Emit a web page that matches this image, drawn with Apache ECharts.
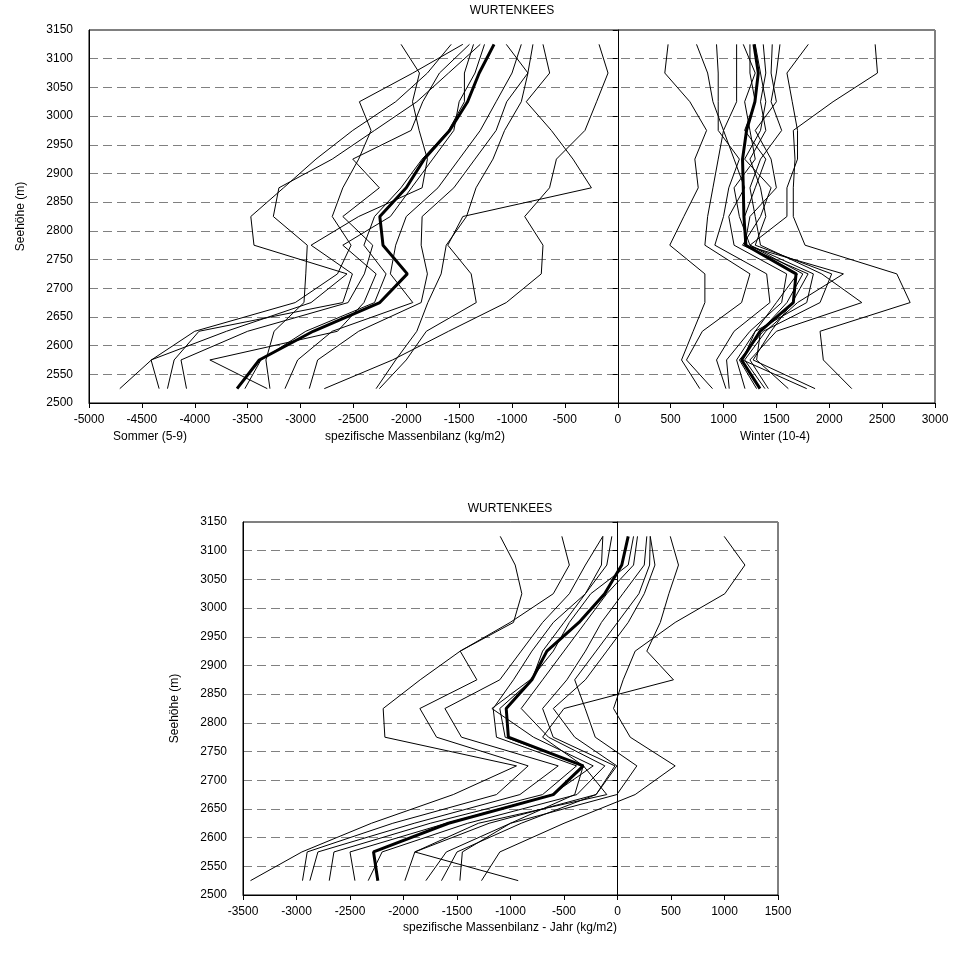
<!DOCTYPE html>
<html><head><meta charset="utf-8">
<script src="https://cdn.jsdelivr.net/npm/echarts@6/dist/echarts.min.js"></script>
<style>html,body{margin:0;padding:0;background:#fff}#c{width:959px;height:965px}</style>
</head><body><div id="c"></div>
<script>
// ---- data ----
const elevations = [2525, 2575, 2625, 2675, 2725, 2775, 2825, 2875, 2925, 2975, 3025, 3075, 3125];

const summerMean = [-3600, -3390, -2880, -2250, -1990, -2220, -2250, -2000, -1830, -1590, -1420, -1310, -1170];
const summerYears = [
  [-4709, -4410, -4000, -3050, -2650, -2522, -2700, -2600, -2450, -2333, -2443, -1938, -1465],
  [-4337, -4413, -3700, -2900, -2560, -3440, -3470, -3160, -2854, -2506, -2100, -1800, -1575],
  [-4258, -4195, -3960, -2600, -2509, -2900, -2450, -1850, -1800, -1878, -1941, -1875, -2049],
  [-4078, -4130, -3500, -2550, -2396, -2317, -2600, -2254, -2506, -1954, -1844, -1686, -1402],
  [-3314, -3857, -2650, -2400, -2285, -2600, -2150, -1950, -1750, -1550, -1500, -1350, -1260],
  [-3526, -3374, -2950, -2300, -2191, -2400, -2300, -2050, -1850, -1600, -1450, -1450, -1364],
  [-3289, -3327, -3250, -2967, -2950, -2936, -3257, -3204, -2700, -2300, -1900, -1600, -1300],
  [-3147, -3027, -2700, -1938, -2150, -2100, -2000, -1700, -1500, -1300, -1150, -1000, -912],
  [-2917, -2838, -2450, -1859, -1800, -1859, -1850, -1550, -1350, -1150, -1050, -850, -802],
  [-2775, -2130, -1600, -1054, -723, -707, -880, -645, -580, -310, -200, -92, -177],
  [-2254, -2000, -1810, -1338, -1386, -1607, -1465, -249, -423, -628, -865, -644, -707],
  [-2285, -2100, -1900, -1796, -1670, -1622, -1430, -1340, -1180, -1070, -912, -849, -1054]
];

const winterMean = [1345, 1171, 1345, 1660, 1686, 1212, 1193, 1187, 1180, 1218, 1297, 1329, 1288];
const winterYears = [
  [2213, 1944, 1913, 2765, 2639, 1771, 1660, 1660, 1676, 1660, 2036, 2456, 2434],
  [776, 603, 713, 824, 824, 492, 625, 761, 729, 840, 682, 445, 476],
  [896, 650, 800, 1171, 1250, 824, 850, 900, 950, 1000, 900, 850, 745],
  [1023, 934, 1100, 1439, 1408, 918, 1000, 1050, 1150, 950, 950, 950, 934],
  [1054, 1029, 1250, 1550, 1597, 1100, 1050, 1200, 1100, 1000, 1124, 1124, 1124],
  [1203, 1124, 1300, 1787, 1850, 1250, 1150, 1100, 1300, 1250, 1200, 1300, 1187],
  [1313, 1150, 1376, 1913, 2023, 1300, 1400, 1350, 1250, 1400, 1350, 1400, 1376],
  [1392, 1200, 1400, 1700, 2134, 1200, 1250, 1500, 1450, 1300, 1500, 1450, 1461],
  [1424, 1250, 1500, 2308, 1929, 1350, 1300, 1250, 1350, 1550, 1450, 1500, 1534],
  [1613, 1313, 1350, 1600, 1750, 1250, 1600, 1600, 1700, 1700, 1650, 1600, 1802],
  [1787, 1180, 1300, 1500, 1700, 1200, 1200, 1300, 1400, 1200, 1300, 1250, 1250],
  [1866, 1280, 1450, 1650, 1800, 1180, 1350, 1450, 1200, 1350, 1400, 1350, 1300]
];

const annualMean = [-2240, -2280, -1580, -600, -320, -1020, -1040, -800, -660, -360, -120, 40, 100];
const annualYears = [
  [-3430, -2950, -2300, -1535, -944, -2174, -2190, -1844, -1470, -1003, -600, -450, -520],
  [-2944, -2900, -2100, -1131, -835, -1691, -1847, -1314, -1470, -972, -894, -956, -1096],
  [-2875, -2800, -1900, -912, -554, -1458, -1613, -1100, -900, -700, -450, -300, -137],
  [-2694, -2650, -1750, -700, -383, -1131, -1162, -972, -800, -600, -300, -100, -53],
  [-2454, -2500, -1600, -613, -227, -785, -1174, -816, -600, -450, -250, 100, 150],
  [-2330, -2200, -1400, -379, -118, -645, -900, -700, -500, -300, -100, 150, 187],
  [-1987, -1894, -1200, -200, -24, -601, -700, -473, -300, -150, 50, 250, 274],
  [-1791, -1600, -1000, -6, 181, -208, -302, -400, -200, 0, 200, 300, 306],
  [-1645, -1500, -900, -200, -6, -400, -600, -300, -100, 100, 250, 350, 306],
  [-1473, -1450, -1000, -400, -320, -700, -500, 523, 274, 400, 480, 570, 493],
  [-1271, -1100, -500, 165, 539, 119, -37, 53, 165, 539, 1003, 1191, 997],
  [-928, -1894, -1300, -100, -318, -1050, -1100, -800, -700, -500, -300, -150, -137]
];

const titleText = 'WURTENKEES';
const yName = 'Seehöhe (m)';
const topXNames = ['Sommer (5-9)', 'spezifische Massenbilanz (kg/m2)', 'Winter (10-4)'];
const bottomXName = 'spezifische Massenbilanz - Jahr (kg/m2)';

// ---- chart ----
const FONT = 'Liberation Sans, Arial, sans-serif';
const pairs = vals => vals.map((v, i) => [v, elevations[i]]);
const plain = v => String(v);

function lineSeries(vals, gi, thick) {
  return {
    type: 'line', xAxisIndex: gi, yAxisIndex: gi * 2,
    data: pairs(vals), symbol: 'none', silent: true, animation: false,
    lineStyle: { color: '#000', width: thick ? 3 : 1 },
    z: thick ? 5 : 3
  };
}

const series = [];
summerYears.forEach(v => series.push(lineSeries(v, 0, false)));
winterYears.forEach(v => series.push(lineSeries(v, 0, false)));
series.push(lineSeries(summerMean, 0, true));
series.push(lineSeries(winterMean, 0, true));
annualYears.forEach(v => series.push(lineSeries(v, 1, false)));
series.push(lineSeries(annualMean, 1, true));

function xAxis(gi, min, max) {
  return {
    type: 'value', gridIndex: gi, min: min, max: max, interval: 500,
    axisLine: { show: true, onZero: false, lineStyle: { color: '#000', width: 1 } },
    axisTick: { show: true, length: 5, lineStyle: { color: '#000' } },
    axisLabel: { color: '#000', fontFamily: FONT, fontSize: 12, margin: 11, formatter: plain },
    splitLine: { show: false }
  };
}
function yAxes(gi) {
  return [{
    type: 'value', gridIndex: gi, min: 2500, max: 3150, interval: 50, position: 'left',
    axisLine: { show: true, onZero: false, lineStyle: { color: '#000' } },
    axisTick: { show: false },
    axisLabel: { color: '#000', fontFamily: FONT, fontSize: 12, margin: 16, formatter: plain },
    splitLine: { show: true, lineStyle: { color: '#808080', type: [9, 5], width: 1 } },
    name: yName, nameLocation: 'middle', nameGap: 62, nameRotate: 90,
    nameTextStyle: { color: '#000', fontFamily: FONT, fontSize: 12 }
  }, {
    type: 'value', gridIndex: gi, min: 2500, max: 3150, interval: 50, position: 'left',
    axisLine: { show: true, onZero: true, lineStyle: { color: '#000', width: 1 } },
    axisTick: { show: true, length: 5, lineStyle: { color: '#000' } },
    axisLabel: { show: false },
    splitLine: { show: false }
  }];
}

const txt = (text, x, y) => ({
  type: 'text', x: x, y: y, silent: true,
  style: { text: text, fill: '#000', font: '12px ' + FONT, textAlign: 'center', textVerticalAlign: 'middle', align: 'center', verticalAlign: 'middle' }
});

const option = {
  animation: false,
  backgroundColor: '#fff',
  grid: [
    { left: 89, right: 24, top: 30, bottom: 562, show: true, borderColor: '#000', borderWidth: 1, backgroundColor: 'transparent' },
    { left: 243, right: 181, top: 522, bottom: 70, show: true, borderColor: '#000', borderWidth: 1, backgroundColor: 'transparent' }
  ],
  xAxis: [xAxis(0, -5000, 3000), xAxis(1, -3500, 1500)],
  yAxis: yAxes(0).concat(yAxes(1)),
  series: series,
  graphic: [
    txt(titleText, 512, 11),
    txt(titleText, 510, 509),
    txt(topXNames[0], 150, 437),
    txt(topXNames[1], 415, 437),
    txt(topXNames[2], 775, 437),
    txt(bottomXName, 510, 928)
  ]
};

const chart = echarts.init(document.getElementById('c'), null, { renderer: 'canvas' });
chart.setOption(option);
</script>
</body></html>
